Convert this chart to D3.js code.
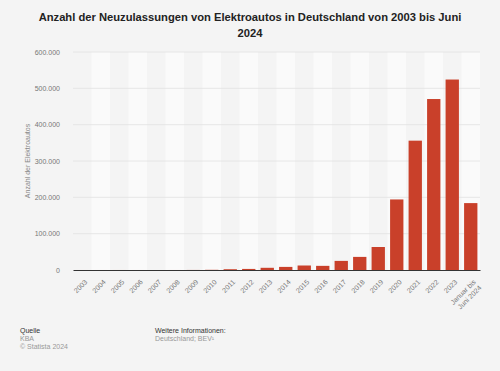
<!DOCTYPE html>
<html>
<head>
<meta charset="utf-8">
<script src="https://cdn.jsdelivr.net/npm/d3@7"></script>
<style>
    body { margin: 0; background: #f4f4f4; }
    svg { display: block; font-family: "Liberation Sans", Arial, sans-serif; }
</style>
</head>
<body>
<div id="chart"></div>
<script>
var categories = ["2003", "2004", "2005", "2006", "2007", "2008", "2009", "2010", "2011", "2012",
    "2013", "2014", "2015", "2016", "2017", "2018", "2019", "2020", "2021", "2022", "2023", "Januar bis|Juni 2024"];
var values = [19, 18, 47, 19, 8, 36, 162, 541, 2154, 2956,
    6051, 8522, 12363, 11410, 25056, 36062, 63281, 194163, 355961, 470559, 524219, 184125];
var yTicks = [0, 100000, 200000, 300000, 400000, 500000, 600000];

var svgWidth = 500;
var svgHeight = 371;
var margin = { top: 52, bottom: 101, right: 20, left: 73 };
var width = svgWidth - margin.left - margin.right;
var height = svgHeight - margin.top - margin.bottom;

var svg = d3.select("#chart").append("svg")
    .attr("width", svgWidth)
    .attr("height", svgHeight);

svg.append("rect").attr("width", svgWidth).attr("height", svgHeight).attr("fill", "#f4f4f4");

// title
var title = svg.append("text")
    .attr("text-anchor", "middle")
    .attr("font-weight", "bold")
    .attr("font-size", "11.2px")
    .attr("fill", "#222");
title.append("tspan").attr("x", 250).attr("y", 21)
    .text("Anzahl der Neuzulassungen von Elektroautos in Deutschland von 2003 bis Juni");
title.append("tspan").attr("x", 250).attr("y", 37).text("2024");

var chartGroup = svg.append("g")
    .attr("transform", `translate(${margin.left}, ${margin.top})`);

var xScale = d3.scaleBand()
    .domain(categories)
    .range([0, width])
    .paddingInner(0.28)
    .paddingOuter(0.14);

var bandScale = d3.scaleBand().domain(categories).range([0, width]);

var yScale = d3.scaleLinear()
    .domain([0, 600000])
    .range([height, 0]);

// alternating column backgrounds
chartGroup.selectAll(".band")
    .data(categories)
    .enter()
    .append("rect")
    .attr("x", d => bandScale(d))
    .attr("y", 0)
    .attr("width", bandScale.bandwidth())
    .attr("height", height)
    .attr("fill", (d, i) => i % 2 === 1 ? "#fafafa" : "#f4f4f4");

// gridlines
chartGroup.selectAll(".grid")
    .data(yTicks.slice(1))
    .enter()
    .append("line")
    .attr("x1", 0)
    .attr("x2", width)
    .attr("y1", d => yScale(d))
    .attr("y2", d => yScale(d))
    .attr("stroke", "#e2e2e2")
    .attr("stroke-width", 0.8);

// y axis
var leftAxis = d3.axisLeft(yScale)
    .tickValues(yTicks)
    .tickSize(0)
    .tickPadding(13)
    .tickFormat(d => d3.format(",")(d).replace(/,/g, "."));

var yAxis = chartGroup.append("g").call(leftAxis);
yAxis.select(".domain").remove();
yAxis.selectAll("text").attr("font-size", "7px").attr("fill", "#777").attr("font-family", "Liberation Sans, Arial, sans-serif");

// bars
chartGroup.selectAll(".bar")
    .data(values)
    .enter()
    .append("rect")
    .attr("x", (d, i) => xScale(categories[i]))
    .attr("y", d => yScale(d))
    .attr("width", xScale.bandwidth())
    .attr("height", d => height - yScale(d))
    .attr("fill", "#c9402a");

// x axis
var bottomAxis = d3.axisBottom(bandScale).tickSize(0).tickFormat("");
var xAxis = chartGroup.append("g")
    .attr("transform", `translate(0, ${height})`)
    .call(bottomAxis);
xAxis.select(".domain").attr("stroke", "#333").attr("stroke-width", 1);

var xLabels = chartGroup.selectAll(".xlabel")
    .data(categories)
    .enter()
    .append("text")
    .attr("text-anchor", "end")
    .attr("font-size", "7px")
    .attr("fill", "#777")
    .attr("transform", d => `translate(${bandScale(d) + bandScale.bandwidth() / 2 + 3}, ${height + 10}) rotate(-45)`);

xLabels.each(function (d) {
    var parts = d.split("|");
    var el = d3.select(this);
    parts.forEach((p, j) => {
        el.append("tspan").attr("x", 0).attr("dy", j === 0 ? "0.5em" : "1.15em").text(p);
    });
});

// y axis title
svg.append("text")
    .attr("transform", `translate(30, ${margin.top + height / 2}) rotate(-90)`)
    .attr("text-anchor", "middle")
    .attr("font-size", "7px")
    .attr("fill", "#888")
    .text("Anzahl der Elektroautos");

// footer
svg.append("text").attr("x", 20).attr("y", 333).attr("font-size", "7px").attr("fill", "#333").text("Quelle");
svg.append("text").attr("x", 20).attr("y", 341).attr("font-size", "7px").attr("fill", "#999").text("KBA");
svg.append("text").attr("x", 20).attr("y", 349).attr("font-size", "7px").attr("fill", "#999").text("© Statista 2024");
svg.append("text").attr("x", 155).attr("y", 333).attr("font-size", "7px").attr("fill", "#333").text("Weitere Informationen:");
svg.append("text").attr("x", 155).attr("y", 341).attr("font-size", "7px").attr("fill", "#999").text("Deutschland; BEV¹");
</script>
</body>
</html>
